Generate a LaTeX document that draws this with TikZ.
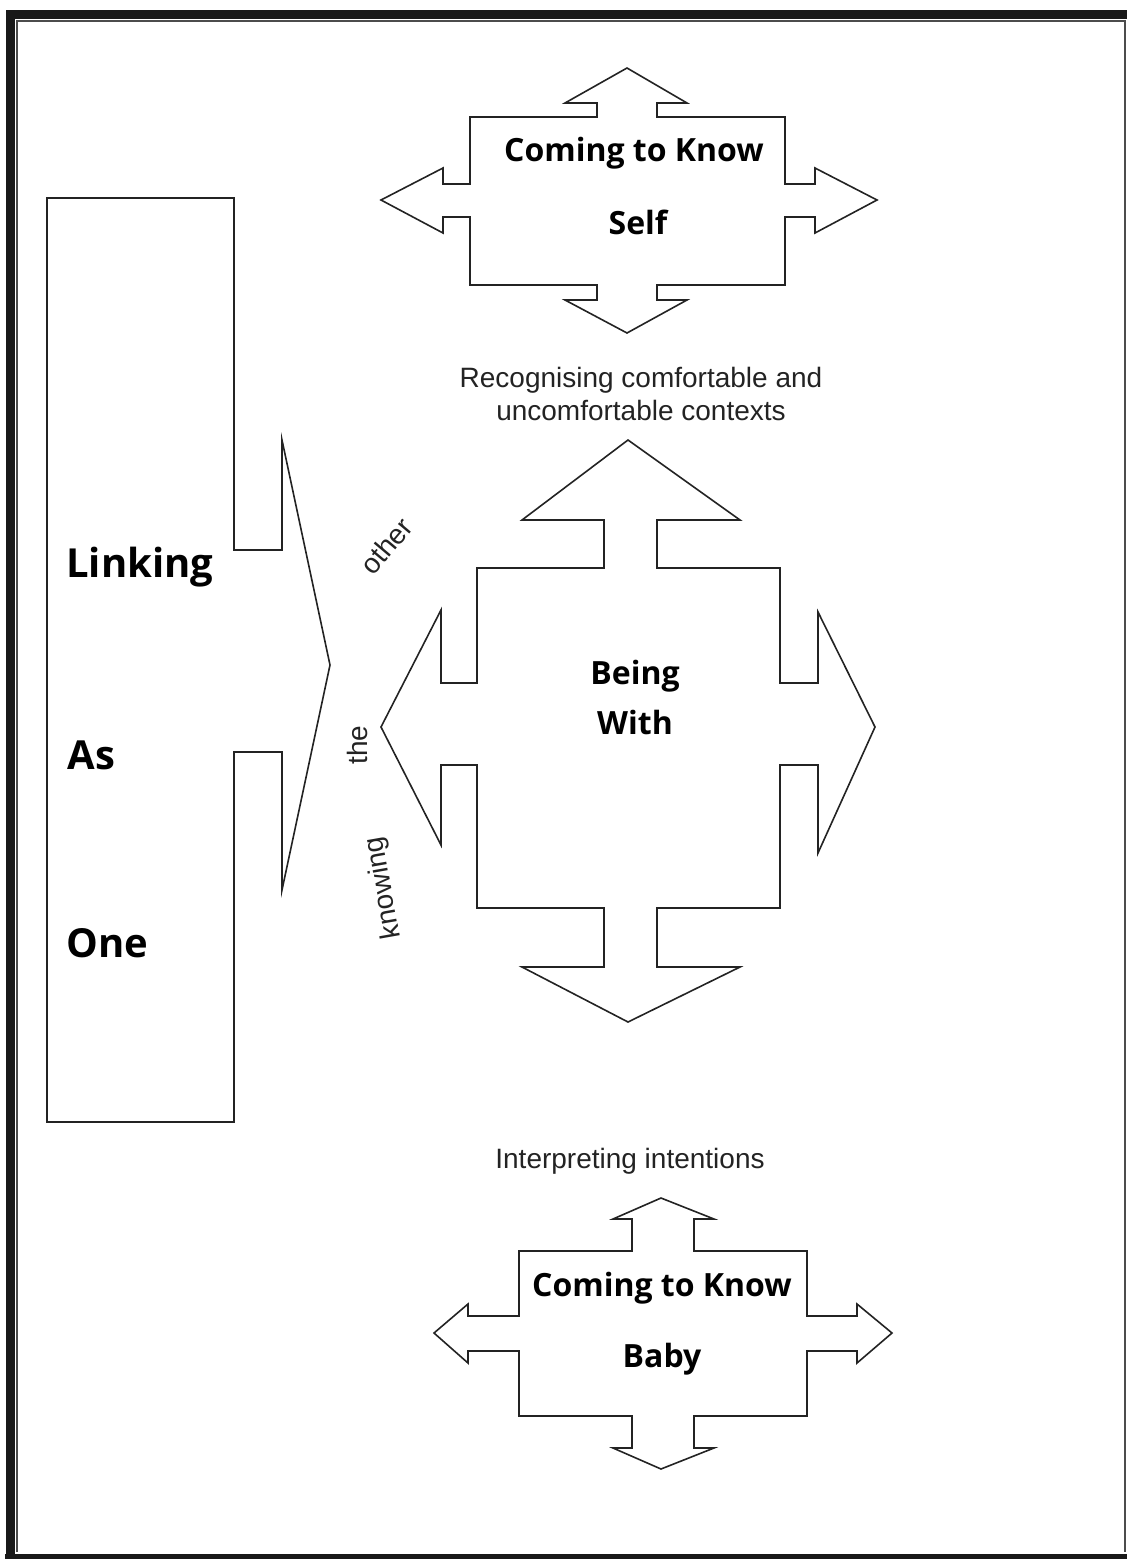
\documentclass[tikz,border=0pt]{standalone}
\usepackage{fontspec}
\setmainfont{Liberation Sans}
\newfontfamily\handfont{Open Sans}
\usepackage{xcolor}
\definecolor{ink}{RGB}{35,35,35}

\begin{document}
\begin{tikzpicture}[x=0.5pt, y=-0.5pt,
  outline/.style={draw=ink, line width=0.8pt, line join=miter},
  bigword/.style={font=\handfont\bfseries\fontsize{16}{19}\selectfont, inner sep=0pt},
  hugeword/.style={font=\handfont\bfseries\fontsize{20}{23}\selectfont, inner sep=0pt, anchor=west},
  plainword/.style={font=\fontsize{14}{16.5}\selectfont, text=ink, inner sep=0pt, align=center}]
  \useasboundingbox (0,0) rectangle (1127,1559);
  % frame
  \draw[line width=4.5pt, black!90] (10,1559) -- (10,14) -- (1127,14);
  \draw[line width=3pt, black!90] (5,1557) -- (1127,1557);
  \draw[line width=0.6pt, black!70] (17,1552) -- (17,21) -- (1125,21) -- (1125,1552);
  % coming to know self
  \draw[outline] (627,68) -- (687,103) -- (657,103) -- (657,117) -- (785,117) -- (785,184)
    -- (815,184) -- (815,168) -- (877,200) -- (815,233) -- (815,217) -- (785,217) -- (785,285)
    -- (657,285) -- (657,300) -- (687,300) -- (627,333) -- (565,300) -- (597,300) -- (597,285)
    -- (470,285) -- (470,217) -- (443,217) -- (443,233) -- (381,200) -- (443,168) -- (443,184)
    -- (470,184) -- (470,117) -- (597,117) -- (597,103) -- (565,103) -- cycle;
  \node[bigword] (selftop) at (634,153) {Coming to Know};
  \node[bigword] (self) at (638,222) {Self};
  \node[plainword] (contexts) at (641,394) {Recognising comfortable and\\uncomfortable contexts};
  % being with
  \draw[outline] (628,440) -- (740,520) -- (657,520) -- (657,568) -- (780,568) -- (780,683)
    -- (818,683) -- (818,612) -- (875,727) -- (818,853) -- (818,765) -- (780,765) -- (780,908)
    -- (657,908) -- (657,967) -- (740,967) -- (628,1022) -- (522,967) -- (604,967) -- (604,908)
    -- (477,908) -- (477,765) -- (441,765) -- (441,845) -- (381,727) -- (441,610) -- (441,683)
    -- (477,683) -- (477,568) -- (604,568) -- (604,520) -- (522,520) -- cycle;
  \node[bigword] (being) at (635,676) {Being};
  \node[bigword] (with) at (635,722) {With};
  % linking as one
  \draw[outline] (47,198) -- (234,198) -- (234,550) -- (282,550) -- (282,440) -- (330,665)
    -- (282,890) -- (282,752) -- (234,752) -- (234,1122) -- (47,1122) -- cycle;
  \node[hugeword] (linking) at (66,567) {Linking};
  \node[hugeword] (as) at (67,755) {As};
  \node[hugeword] (one) at (66,943) {One};
  \node[plainword, rotate=50] (other) at (386,546) {other};
  \node[plainword, rotate=90] (the) at (357,745) {the};
  \node[plainword, rotate=100] (knowing) at (384,888) {knowing};
  \node[plainword] (intentions) at (630,1161) {Interpreting intentions};
  % coming to know baby
  \draw[outline] (661,1198) -- (714,1219) -- (694,1219) -- (694,1251) -- (807,1251) -- (807,1316)
    -- (857,1316) -- (857,1304) -- (892,1333) -- (857,1363) -- (857,1351) -- (807,1351) -- (807,1416)
    -- (694,1416) -- (694,1448) -- (714,1448) -- (661,1469) -- (613,1448) -- (632,1448) -- (632,1416)
    -- (519,1416) -- (519,1351) -- (468,1351) -- (468,1363) -- (434,1333) -- (468,1304) -- (468,1316)
    -- (519,1316) -- (519,1251) -- (632,1251) -- (632,1219) -- (613,1219) -- cycle;
  \node[bigword] (babytop) at (662,1288) {Coming to Know};
  \node[bigword] (baby) at (662,1359) {Baby};
\end{tikzpicture}
\end{document}
